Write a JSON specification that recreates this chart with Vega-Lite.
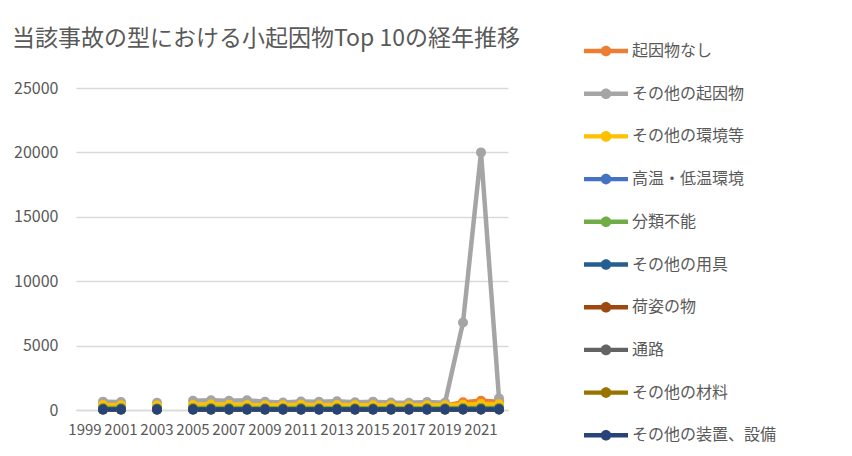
{
  "$schema": "https://vega.github.io/schema/vega-lite/v6.json",
  "autosize": {"type": "none"},
  "padding": {"left": 76, "top": 88, "right": 344, "bottom": 46},
  "width": 432,
  "height": 322,
  "background": "white",
  "title": {
    "text": "当該事故の型における小起因物Top 10の経年推移",
    "anchor": "start",
    "frame": "group",
    "dx": -64,
    "offset": -8,
    "font": "Noto Sans CJK JP",
    "fontSize": 23,
    "fontWeight": "normal",
    "color": "#595959"
  },
  "data": {"values": [
    {"year":"2000","s":"起因物なし","v":250},{"year":"2001","s":"起因物なし","v":240},{"year":"2002","s":"起因物なし","v":null},{"year":"2003","s":"起因物なし","v":230},{"year":"2004","s":"起因物なし","v":null},{"year":"2005","s":"起因物なし","v":280},{"year":"2006","s":"起因物なし","v":300},{"year":"2007","s":"起因物なし","v":290},{"year":"2008","s":"起因物なし","v":300},{"year":"2009","s":"起因物なし","v":280},{"year":"2010","s":"起因物なし","v":270},{"year":"2011","s":"起因物なし","v":290},{"year":"2012","s":"起因物なし","v":280},{"year":"2013","s":"起因物なし","v":300},{"year":"2014","s":"起因物なし","v":290},{"year":"2015","s":"起因物なし","v":300},{"year":"2016","s":"起因物なし","v":310},{"year":"2017","s":"起因物なし","v":320},{"year":"2018","s":"起因物なし","v":330},{"year":"2019","s":"起因物なし","v":340},{"year":"2020","s":"起因物なし","v":600},{"year":"2021","s":"起因物なし","v":720},{"year":"2022","s":"起因物なし","v":650},
    {"year":"2000","s":"その他の起因物","v":650},{"year":"2001","s":"その他の起因物","v":620},{"year":"2002","s":"その他の起因物","v":null},{"year":"2003","s":"その他の起因物","v":560},{"year":"2004","s":"その他の起因物","v":null},{"year":"2005","s":"その他の起因物","v":720},{"year":"2006","s":"その他の起因物","v":760},{"year":"2007","s":"その他の起因物","v":720},{"year":"2008","s":"その他の起因物","v":760},{"year":"2009","s":"その他の起因物","v":640},{"year":"2010","s":"その他の起因物","v":580},{"year":"2011","s":"その他の起因物","v":660},{"year":"2012","s":"その他の起因物","v":640},{"year":"2013","s":"その他の起因物","v":680},{"year":"2014","s":"その他の起因物","v":600},{"year":"2015","s":"その他の起因物","v":650},{"year":"2016","s":"その他の起因物","v":580},{"year":"2017","s":"その他の起因物","v":560},{"year":"2018","s":"その他の起因物","v":620},{"year":"2019","s":"その他の起因物","v":560},{"year":"2020","s":"その他の起因物","v":6800},{"year":"2021","s":"その他の起因物","v":20000},{"year":"2022","s":"その他の起因物","v":900},
    {"year":"2000","s":"その他の環境等","v":380},{"year":"2001","s":"その他の環境等","v":370},{"year":"2002","s":"その他の環境等","v":null},{"year":"2003","s":"その他の環境等","v":350},{"year":"2004","s":"その他の環境等","v":null},{"year":"2005","s":"その他の環境等","v":380},{"year":"2006","s":"その他の環境等","v":420},{"year":"2007","s":"その他の環境等","v":400},{"year":"2008","s":"その他の環境等","v":380},{"year":"2009","s":"その他の環境等","v":370},{"year":"2010","s":"その他の環境等","v":360},{"year":"2011","s":"その他の環境等","v":400},{"year":"2012","s":"その他の環境等","v":370},{"year":"2013","s":"その他の環境等","v":380},{"year":"2014","s":"その他の環境等","v":360},{"year":"2015","s":"その他の環境等","v":370},{"year":"2016","s":"その他の環境等","v":360},{"year":"2017","s":"その他の環境等","v":350},{"year":"2018","s":"その他の環境等","v":370},{"year":"2019","s":"その他の環境等","v":360},{"year":"2020","s":"その他の環境等","v":400},{"year":"2021","s":"その他の環境等","v":460},{"year":"2022","s":"その他の環境等","v":450},
    {"year":"2000","s":"高温・低温環境","v":100},{"year":"2001","s":"高温・低温環境","v":100},{"year":"2002","s":"高温・低温環境","v":null},{"year":"2003","s":"高温・低温環境","v":90},{"year":"2004","s":"高温・低温環境","v":null},{"year":"2005","s":"高温・低温環境","v":110},{"year":"2006","s":"高温・低温環境","v":110},{"year":"2007","s":"高温・低温環境","v":110},{"year":"2008","s":"高温・低温環境","v":100},{"year":"2009","s":"高温・低温環境","v":100},{"year":"2010","s":"高温・低温環境","v":100},{"year":"2011","s":"高温・低温環境","v":110},{"year":"2012","s":"高温・低温環境","v":100},{"year":"2013","s":"高温・低温環境","v":100},{"year":"2014","s":"高温・低温環境","v":100},{"year":"2015","s":"高温・低温環境","v":100},{"year":"2016","s":"高温・低温環境","v":100},{"year":"2017","s":"高温・低温環境","v":100},{"year":"2018","s":"高温・低温環境","v":110},{"year":"2019","s":"高温・低温環境","v":110},{"year":"2020","s":"高温・低温環境","v":120},{"year":"2021","s":"高温・低温環境","v":130},{"year":"2022","s":"高温・低温環境","v":130},
    {"year":"2000","s":"分類不能","v":150},{"year":"2001","s":"分類不能","v":150},{"year":"2002","s":"分類不能","v":null},{"year":"2003","s":"分類不能","v":120},{"year":"2004","s":"分類不能","v":null},{"year":"2005","s":"分類不能","v":160},{"year":"2006","s":"分類不能","v":150},{"year":"2007","s":"分類不能","v":150},{"year":"2008","s":"分類不能","v":150},{"year":"2009","s":"分類不能","v":140},{"year":"2010","s":"分類不能","v":140},{"year":"2011","s":"分類不能","v":150},{"year":"2012","s":"分類不能","v":140},{"year":"2013","s":"分類不能","v":140},{"year":"2014","s":"分類不能","v":140},{"year":"2015","s":"分類不能","v":140},{"year":"2016","s":"分類不能","v":140},{"year":"2017","s":"分類不能","v":130},{"year":"2018","s":"分類不能","v":140},{"year":"2019","s":"分類不能","v":140},{"year":"2020","s":"分類不能","v":150},{"year":"2021","s":"分類不能","v":160},{"year":"2022","s":"分類不能","v":160},
    {"year":"2000","s":"その他の用具","v":60},{"year":"2001","s":"その他の用具","v":60},{"year":"2002","s":"その他の用具","v":null},{"year":"2003","s":"その他の用具","v":55},{"year":"2004","s":"その他の用具","v":null},{"year":"2005","s":"その他の用具","v":65},{"year":"2006","s":"その他の用具","v":65},{"year":"2007","s":"その他の用具","v":60},{"year":"2008","s":"その他の用具","v":60},{"year":"2009","s":"その他の用具","v":60},{"year":"2010","s":"その他の用具","v":60},{"year":"2011","s":"その他の用具","v":60},{"year":"2012","s":"その他の用具","v":60},{"year":"2013","s":"その他の用具","v":60},{"year":"2014","s":"その他の用具","v":60},{"year":"2015","s":"その他の用具","v":60},{"year":"2016","s":"その他の用具","v":60},{"year":"2017","s":"その他の用具","v":60},{"year":"2018","s":"その他の用具","v":60},{"year":"2019","s":"その他の用具","v":60},{"year":"2020","s":"その他の用具","v":70},{"year":"2021","s":"その他の用具","v":70},{"year":"2022","s":"その他の用具","v":70},
    {"year":"2000","s":"荷姿の物","v":50},{"year":"2001","s":"荷姿の物","v":50},{"year":"2002","s":"荷姿の物","v":null},{"year":"2003","s":"荷姿の物","v":45},{"year":"2004","s":"荷姿の物","v":null},{"year":"2005","s":"荷姿の物","v":55},{"year":"2006","s":"荷姿の物","v":55},{"year":"2007","s":"荷姿の物","v":50},{"year":"2008","s":"荷姿の物","v":50},{"year":"2009","s":"荷姿の物","v":50},{"year":"2010","s":"荷姿の物","v":50},{"year":"2011","s":"荷姿の物","v":50},{"year":"2012","s":"荷姿の物","v":50},{"year":"2013","s":"荷姿の物","v":50},{"year":"2014","s":"荷姿の物","v":50},{"year":"2015","s":"荷姿の物","v":50},{"year":"2016","s":"荷姿の物","v":50},{"year":"2017","s":"荷姿の物","v":50},{"year":"2018","s":"荷姿の物","v":50},{"year":"2019","s":"荷姿の物","v":50},{"year":"2020","s":"荷姿の物","v":55},{"year":"2021","s":"荷姿の物","v":55},{"year":"2022","s":"荷姿の物","v":55},
    {"year":"2000","s":"通路","v":40},{"year":"2001","s":"通路","v":40},{"year":"2002","s":"通路","v":null},{"year":"2003","s":"通路","v":40},{"year":"2004","s":"通路","v":null},{"year":"2005","s":"通路","v":45},{"year":"2006","s":"通路","v":45},{"year":"2007","s":"通路","v":40},{"year":"2008","s":"通路","v":40},{"year":"2009","s":"通路","v":40},{"year":"2010","s":"通路","v":40},{"year":"2011","s":"通路","v":40},{"year":"2012","s":"通路","v":40},{"year":"2013","s":"通路","v":40},{"year":"2014","s":"通路","v":40},{"year":"2015","s":"通路","v":40},{"year":"2016","s":"通路","v":40},{"year":"2017","s":"通路","v":40},{"year":"2018","s":"通路","v":40},{"year":"2019","s":"通路","v":40},{"year":"2020","s":"通路","v":45},{"year":"2021","s":"通路","v":45},{"year":"2022","s":"通路","v":45},
    {"year":"2000","s":"その他の材料","v":35},{"year":"2001","s":"その他の材料","v":35},{"year":"2002","s":"その他の材料","v":null},{"year":"2003","s":"その他の材料","v":35},{"year":"2004","s":"その他の材料","v":null},{"year":"2005","s":"その他の材料","v":40},{"year":"2006","s":"その他の材料","v":40},{"year":"2007","s":"その他の材料","v":35},{"year":"2008","s":"その他の材料","v":35},{"year":"2009","s":"その他の材料","v":35},{"year":"2010","s":"その他の材料","v":35},{"year":"2011","s":"その他の材料","v":35},{"year":"2012","s":"その他の材料","v":35},{"year":"2013","s":"その他の材料","v":35},{"year":"2014","s":"その他の材料","v":35},{"year":"2015","s":"その他の材料","v":35},{"year":"2016","s":"その他の材料","v":35},{"year":"2017","s":"その他の材料","v":35},{"year":"2018","s":"その他の材料","v":35},{"year":"2019","s":"その他の材料","v":35},{"year":"2020","s":"その他の材料","v":40},{"year":"2021","s":"その他の材料","v":40},{"year":"2022","s":"その他の材料","v":40},
    {"year":"2000","s":"その他の装置、設備","v":30},{"year":"2001","s":"その他の装置、設備","v":30},{"year":"2002","s":"その他の装置、設備","v":null},{"year":"2003","s":"その他の装置、設備","v":30},{"year":"2004","s":"その他の装置、設備","v":null},{"year":"2005","s":"その他の装置、設備","v":30},{"year":"2006","s":"その他の装置、設備","v":30},{"year":"2007","s":"その他の装置、設備","v":30},{"year":"2008","s":"その他の装置、設備","v":30},{"year":"2009","s":"その他の装置、設備","v":30},{"year":"2010","s":"その他の装置、設備","v":30},{"year":"2011","s":"その他の装置、設備","v":30},{"year":"2012","s":"その他の装置、設備","v":30},{"year":"2013","s":"その他の装置、設備","v":30},{"year":"2014","s":"その他の装置、設備","v":30},{"year":"2015","s":"その他の装置、設備","v":30},{"year":"2016","s":"その他の装置、設備","v":30},{"year":"2017","s":"その他の装置、設備","v":30},{"year":"2018","s":"その他の装置、設備","v":30},{"year":"2019","s":"その他の装置、設備","v":30},{"year":"2020","s":"その他の装置、設備","v":35},{"year":"2021","s":"その他の装置、設備","v":35},{"year":"2022","s":"その他の装置、設備","v":35}
  ]},
  "encoding": {
    "x": {
      "field": "year", "type": "ordinal", "title": null,
      "scale": {"type": "band", "domain": ["1999","2000","2001","2002","2003","2004","2005","2006","2007","2008","2009","2010","2011","2012","2013","2014","2015","2016","2017","2018","2019","2020","2021","2022"], "paddingInner": 0, "paddingOuter": 0},
      "axis": {
        "values": ["1999","2001","2003","2005","2007","2009","2011","2013","2015","2017","2019","2021"],
        "labelAngle": 0, "ticks": false, "domain": true, "domainColor": "#d9d9d9", "domainWidth": 1.5,
        "labelFontSize": 15, "labelColor": "#595959", "labelFont": "Noto Sans CJK JP",
        "labelPadding": 12, "labelOverlap": false, "grid": false
      }
    },
    "y": {
      "field": "v", "type": "quantitative", "title": null,
      "scale": {"domain": [0, 25000], "nice": false},
      "axis": {
        "values": [0, 5000, 10000, 15000, 20000, 25000],
        "format": "d", "ticks": false, "domain": false,
        "grid": true, "gridColor": "#d9d9d9", "gridWidth": 1.5,
        "labelFontSize": 16, "labelColor": "#595959", "labelFont": "Noto Sans CJK JP",
        "labelPadding": 18
      }
    },
    "color": {
      "field": "s", "type": "nominal", "title": null,
      "scale": {
        "domain": ["起因物なし","その他の起因物","その他の環境等","高温・低温環境","分類不能","その他の用具","荷姿の物","通路","その他の材料","その他の装置、設備"],
        "range": ["#ED7D31","#A5A5A5","#FFC000","#4472C4","#70AD47","#255E91","#9E480E","#636363","#997300","#264478"]
      },
      "legend": {
        "orient": "none", "legendX": 508, "legendY": -45,
        "symbolType": "M-1,-0.1H1V0.1H-1Z M-0.24,0A0.24,0.24,0,1,1,0.24,0A0.24,0.24,0,1,1,-0.24,0Z",
        "symbolSize": 1936, "symbolStrokeWidth": 0, "symbolOpacity": 1,
        "clipHeight": 16, "rowPadding": 26.7,
        "labelFontSize": 16, "labelColor": "#595959", "labelFont": "Noto Sans CJK JP",
        "labelOffset": 4, "labelLimit": 300, "padding": 0
      }
    }
  },
  "layer": [
    {"mark": {"type": "line", "strokeWidth": 4.5, "strokeCap": "round", "strokeJoin": "round"}},
    {"mark": {"type": "point", "filled": true, "size": 100, "opacity": 1, "shape": "circle"}}
  ],
  "config": {
    "view": {"stroke": null},
    "font": "Noto Sans CJK JP"
  }
}
